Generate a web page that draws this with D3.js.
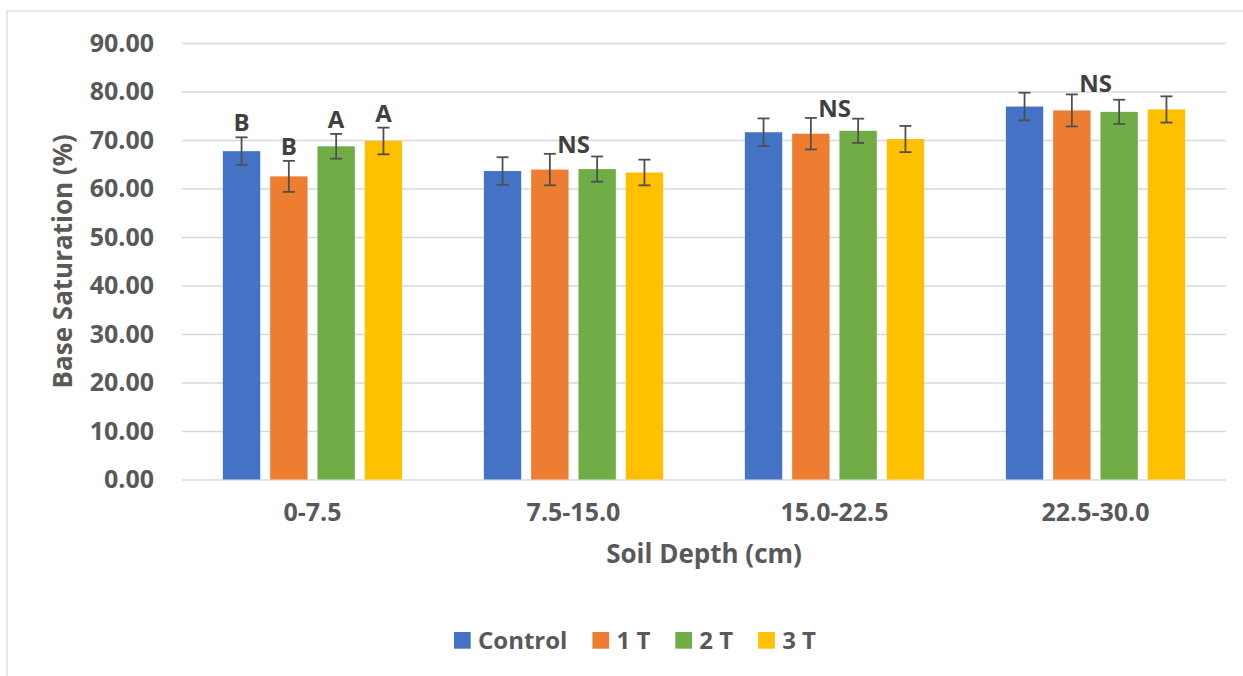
<!DOCTYPE html>
<html><head><meta charset="utf-8">
<script src="https://cdn.jsdelivr.net/npm/d3@7"></script>
<style>body{margin:0;background:#fff;}svg{display:block;font-family:"Open Sans",sans-serif;font-weight:700;}</style>
</head><body><svg id="c" width="1243" height="676"></svg>
<script>
const categories = ["0-7.5", "7.5-15.0", "15.0-22.5", "22.5-30.0"];
const seriesNames = ["Control", "1 T", "2 T", "3 T"];
const colors = ["#4472C4", "#ED7D31", "#70AD47", "#FFC000"];
const valControl = [67.7, 63.6, 71.6, 76.9];
const val1T = [62.5, 63.9, 71.3, 76.1];
const val2T = [68.7, 64.0, 71.9, 75.8];
const val3T = [69.8, 63.3, 70.2, 76.3];
const errControl = [2.85, 2.85, 2.85, 2.85];
const err1T = [3.2, 3.25, 3.25, 3.3];
const err2T = [2.55, 2.6, 2.5, 2.5];
const err3T = [2.75, 2.65, 2.7, 2.7];
const barLetters = [["B", "B", "A", "A"], null, null, null];
const groupLetters = [null, "NS", "NS", "NS"];
const yTicks = [0, 10, 20, 30, 40, 50, 60, 70, 80, 90];
const yTitle = "Base Saturation (%)";
const xTitle = "Soil Depth (cm)";

const values = [valControl, val1T, val2T, val3T];
const errs = [errControl, err1T, err2T, err3T];

const svg = d3.select("#c");
const pL = 182, pR = 1226, pT = 43, pB = 479.5;
const grey = "#595959";

svg.append("rect").attr("x", 7).attr("y", 11).attr("width", 1260).attr("height", 700)
  .attr("fill", "none").attr("stroke", "#d9d9d9").attr("stroke-width", 1.2);

const y = d3.scaleLinear().domain([0, 90]).range([pB, pT]);
const x0 = d3.scaleBand().domain(categories).range([pL, pR]).paddingInner(0).paddingOuter(0);
const x1 = d3.scaleBand().domain(seriesNames).range([-94.6, 94.6]).paddingInner(0.21).paddingOuter(0.105);

const yAxis = d3.axisLeft(y).tickValues(yTicks).tickFormat(d3.format(".2f")).tickSize(-(pR - pL)).tickPadding(28);
const ga = svg.append("g").attr("transform", `translate(${pL},0)`).call(yAxis);
ga.select(".domain").remove();
ga.selectAll(".tick line").attr("stroke", "#d9d9d9").attr("stroke-width", 1.6);
ga.selectAll(".tick text").attr("fill", grey).style("font-size", "25px").style("font-family", "Open Sans").style("font-weight", 700);

const groups = svg.append("g").selectAll("g").data(categories).join("g")
  .attr("transform", d => `translate(${x0(d) + x0.bandwidth() / 2},0)`);
seriesNames.forEach((s, si) => {
  groups.append("rect")
    .attr("x", x1(s)).attr("width", x1.bandwidth())
    .attr("y", (d, ci) => y(values[si][ci]))
    .attr("height", (d, ci) => y(0) - y(values[si][ci]))
    .attr("fill", colors[si]);
});
seriesNames.forEach((s, si) => {
  groups.each(function (d, ci) {
    const g = d3.select(this);
    const cx = x1(s) + x1.bandwidth() / 2;
    const v = values[si][ci], e = errs[si][ci];
    const eg = g.append("g").attr("stroke", "#505050").attr("stroke-width", 1.8);
    eg.append("line").attr("x1", cx).attr("x2", cx).attr("y1", y(v + e)).attr("y2", y(v - e));
    eg.append("line").attr("x1", cx - 6).attr("x2", cx + 6).attr("y1", y(v + e)).attr("y2", y(v + e));
    eg.append("line").attr("x1", cx - 6).attr("x2", cx + 6).attr("y1", y(v - e)).attr("y2", y(v - e));
    if (barLetters[ci]) {
      g.append("text").attr("x", cx).attr("y", y(v + e) - 6)
        .attr("text-anchor", "middle").attr("fill", "#404040").style("font-size", "24px")
        .text(barLetters[ci][si]);
    }
  });
});
groups.each(function (d, ci) {
  if (!groupLetters[ci]) return;
  const mx = d3.max(seriesNames.map((s, si) => values[si][ci] + errs[si][ci]));
  d3.select(this).append("text").attr("x", 0).attr("y", y(mx) - 1)
    .attr("text-anchor", "middle").attr("fill", "#404040").style("font-size", "24px")
    .text(groupLetters[ci]);
});

const xAxis = d3.axisBottom(x0).tickSize(0).tickPadding(24);
const gx = svg.append("g").attr("transform", `translate(0,${pB})`).call(xAxis);
gx.select(".domain").remove();
gx.selectAll(".tick text").attr("fill", grey).style("font-size", "25px").style("font-family", "Open Sans").style("font-weight", 700);

svg.append("text").attr("x", (pL + pR) / 2).attr("y", 563).attr("text-anchor", "middle")
  .attr("fill", grey).style("font-size", "26px").text(xTitle);
svg.append("text").attr("transform", `translate(72,${(pT + pB) / 2}) rotate(-90)`).attr("text-anchor", "middle")
  .attr("fill", grey).style("font-size", "26px").text(yTitle);

const lg = svg.append("g");
let lx = 454;
seriesNames.forEach((s, i) => {
  lg.append("rect").attr("x", lx).attr("y", 632).attr("width", 16.7).attr("height", 16.7).attr("fill", colors[i]);
  const t = lg.append("text").attr("x", lx + 24).attr("y", 648.5).attr("fill", grey).style("font-size", "24px").text(s);
  lx += 24 + t.node().getComputedTextLength() + 25;
});
</script></body></html>
